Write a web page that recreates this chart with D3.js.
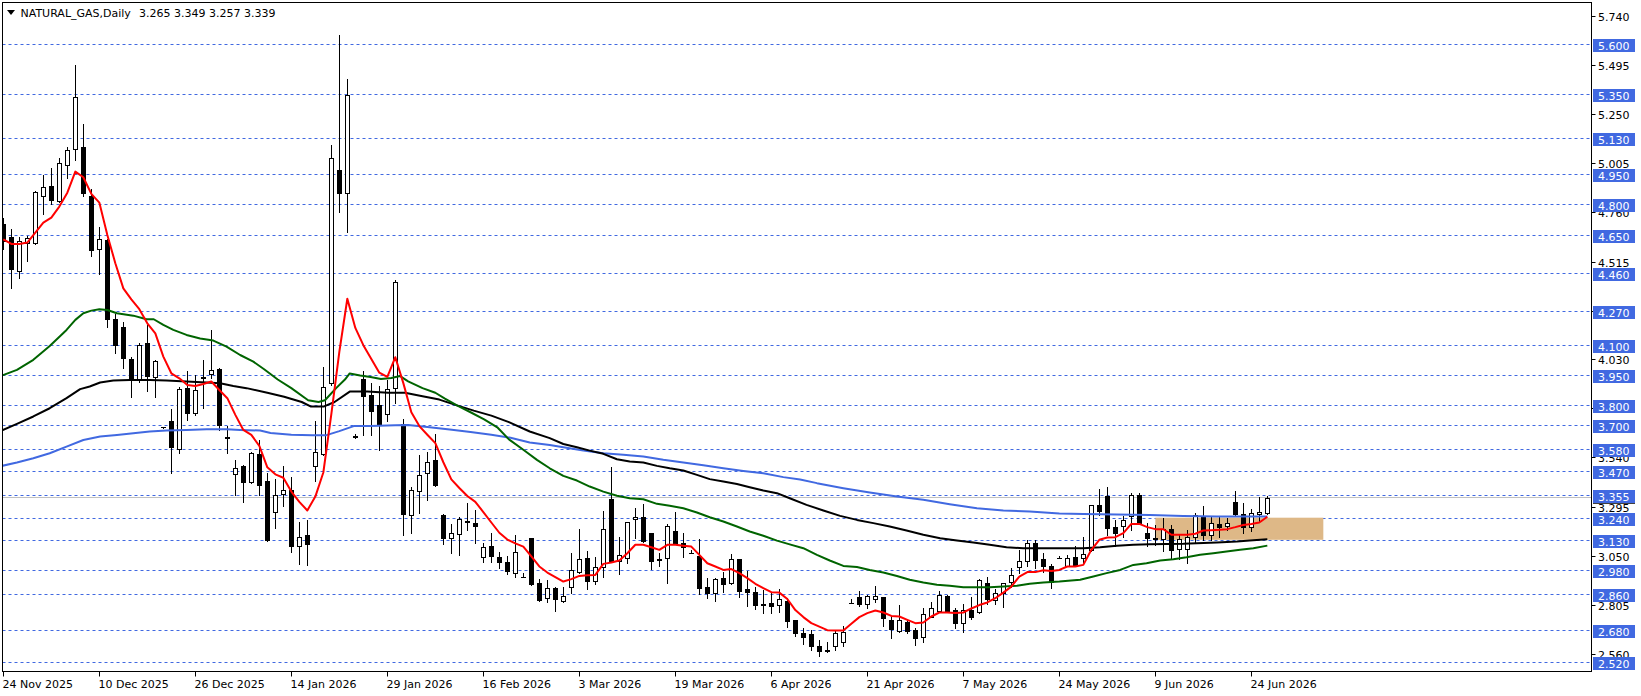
<!DOCTYPE html>
<html><head><meta charset="utf-8">
<script src="https://cdn.jsdelivr.net/npm/d3@7"></script>
<style>
html,body{margin:0;padding:0;background:#fff;}
svg{display:block;font-family:"DejaVu Sans",sans-serif;font-size:11px;}
</style></head><body>
<svg id="c" width="1641" height="696"></svg>
<script>
// ---- data (bar index 0 = 24 Nov 2025) ----
const opens = [4.70,4.636,4.467,4.606,4.610,4.840,4.890,4.819,4.995,5.078,5.084,4.842,4.576,4.623,4.228,4.188,4.029,3.926,4.109,3.939,
3.691,3.720,3.584,3.884,3.763,3.942,3.954,3.979,3.641,3.458,3.498,3.420,3.559,3.422,3.268,3.359,3.376,3.101,3.153,3.496,
3.559,3.910,4.970,4.858,3.645,3.931,3.850,3.799,3.756,3.885,3.705,3.251,3.372,3.465,3.527,3.252,3.139,3.160,3.225,3.216,
3.045,3.101,3.045,3.020,2.967,2.947,3.140,2.916,2.839,2.889,2.823,2.894,2.972,3.038,2.927,2.994,3.332,3.022,3.038,3.233,
3.242,3.163,3.032,3.038,3.173,3.113,3.063,3.050,2.896,2.864,2.939,2.914,3.033,2.886,2.872,2.808,2.814,2.803,2.826,2.731,
2.665,2.660,2.600,2.580,2.600,2.620,2.814,2.844,2.811,2.834,2.844,2.731,2.678,2.723,2.682,2.648,2.748,2.773,2.851,2.781,
2.715,2.781,2.768,2.917,2.831,2.864,2.922,2.994,3.022,3.113,3.033,2.997,3.039,3.000,3.043,3.040,3.080,3.302,3.349,3.193,
3.200,3.246,3.352,3.163,3.139,3.136,3.183,3.083,3.083,3.146,3.246,3.153,3.209,3.200,3.320,3.259,3.196,3.259,3.265];
const highs = [4.73,4.678,4.636,4.644,4.865,4.946,4.981,5.031,5.084,5.494,5.200,4.875,4.689,4.626,4.253,4.213,4.042,4.109,4.200,4.026,
3.694,3.780,3.893,3.972,3.951,4.026,4.175,3.984,3.697,3.528,3.503,3.569,3.628,3.465,3.431,3.496,3.444,3.220,3.228,3.719,
3.988,5.097,5.642,5.424,3.655,3.970,3.910,3.897,3.924,4.425,3.731,3.393,3.550,3.568,3.657,3.256,3.211,3.245,3.311,3.276,
3.113,3.165,3.070,3.050,3.154,2.965,3.140,2.935,2.931,2.894,2.894,3.063,3.183,3.072,3.043,3.274,3.491,3.146,3.218,3.287,
3.309,3.163,3.063,3.208,3.267,3.163,3.080,3.133,2.939,2.939,2.972,3.057,3.033,2.975,2.897,2.881,2.864,2.884,2.839,2.731,
2.690,2.680,2.630,2.620,2.680,2.700,2.834,2.877,2.856,2.901,2.847,2.748,2.806,2.735,2.690,2.789,2.818,2.877,2.856,2.789,
2.811,2.844,2.934,2.947,2.884,2.917,2.989,3.080,3.130,3.130,3.063,3.010,3.050,3.055,3.100,3.146,3.302,3.382,3.392,3.229,
3.250,3.365,3.365,3.213,3.204,3.237,3.204,3.160,3.180,3.262,3.299,3.246,3.242,3.240,3.375,3.312,3.282,3.345,3.349];
const lows = [4.58,4.386,4.435,4.520,4.603,4.752,4.802,4.814,4.930,5.021,4.844,4.545,4.452,4.191,4.062,3.987,3.840,3.918,3.873,3.840,
3.687,3.465,3.561,3.724,3.750,3.785,3.934,3.677,3.561,3.355,3.320,3.412,3.353,3.122,3.187,3.297,3.067,3.010,3.005,3.422,
3.550,3.902,4.764,4.660,3.638,3.650,3.653,3.576,3.722,3.811,3.153,3.165,3.263,3.328,3.396,3.108,3.062,3.053,3.177,3.113,
3.020,3.020,2.990,2.960,2.947,2.947,2.906,2.823,2.819,2.773,2.819,2.864,2.967,2.887,2.911,2.947,3.017,2.959,3.013,3.138,
3.121,2.985,3.000,2.917,3.110,3.043,3.062,2.861,2.838,2.823,2.872,2.909,2.844,2.798,2.785,2.765,2.765,2.768,2.698,2.649,
2.610,2.580,2.550,2.570,2.580,2.600,2.813,2.801,2.790,2.818,2.702,2.640,2.673,2.665,2.605,2.620,2.745,2.768,2.768,2.690,
2.673,2.735,2.765,2.811,2.811,2.795,2.897,2.967,3.000,2.989,2.972,2.889,3.038,2.997,3.000,3.012,3.072,3.254,3.155,3.100,
3.145,3.179,3.213,3.100,3.103,3.072,3.038,3.033,3.013,3.121,3.130,3.130,3.146,3.180,3.254,3.166,3.176,3.221,3.257];
const closes = [4.62,4.480,4.616,4.631,4.860,4.887,4.824,5.004,5.071,5.333,4.858,4.575,4.626,4.228,4.099,4.034,3.926,4.102,3.943,4.019,
3.690,3.591,3.883,3.760,3.876,3.936,3.974,3.700,3.638,3.486,3.420,3.561,3.401,3.131,3.353,3.376,3.101,3.143,3.108,3.566,
3.890,5.030,4.858,5.343,3.640,3.845,3.773,3.708,3.880,4.413,3.259,3.376,3.451,3.516,3.405,3.139,3.163,3.233,3.221,3.199,
3.096,3.050,3.019,2.975,3.068,2.947,2.911,2.828,2.889,2.834,2.848,2.980,3.033,2.927,2.994,3.183,3.022,3.055,3.218,3.244,
3.126,3.022,3.030,3.199,3.116,3.093,3.062,2.889,2.864,2.935,2.911,3.033,2.877,2.872,2.806,2.805,2.798,2.834,2.728,2.668,
2.645,2.600,2.575,2.575,2.668,2.673,2.814,2.811,2.851,2.851,2.740,2.685,2.731,2.678,2.640,2.761,2.789,2.856,2.773,2.718,
2.778,2.748,2.931,2.834,2.867,2.917,2.957,3.022,3.113,3.027,2.997,2.922,3.038,3.038,3.005,3.060,3.302,3.271,3.188,3.166,
3.230,3.352,3.216,3.140,3.136,3.183,3.080,3.133,3.146,3.254,3.155,3.213,3.193,3.215,3.259,3.193,3.262,3.269,3.339];

// moving averages: [bar index, value]
const maRed = [[0,4.626],[1,4.603],[2,4.603],[3,4.610],[4,4.659],[5,4.709],[6,4.734],[7,4.789],[8,4.858],[9,4.963],[10,4.935],[11,4.852],[12,4.809],[13,4.648],[14,4.507],[15,4.382],[16,4.327],[17,4.278],[18,4.208],[19,4.158],[20,4.042],[21,3.959],[22,3.934],[23,3.901],[24,3.896],[25,3.906],[26,3.918],[27,3.876],[28,3.835],[29,3.752],[30,3.677],[31,3.652],[32,3.598],[33,3.491],[34,3.456],[35,3.439],[36,3.370],[37,3.319],[38,3.276],[39,3.345],[40,3.465],[41,3.756],[42,4.065],[43,4.330],[44,4.185],[45,4.099],[46,4.030],[47,3.962],[48,3.941],[49,4.039],[50,3.910],[51,3.765],[52,3.696],[53,3.653],[54,3.611],[55,3.516],[56,3.431],[57,3.388],[58,3.348],[59,3.319],[60,3.268],[61,3.216],[62,3.165],[63,3.131],[64,3.112],[65,3.096],[66,3.047],[67,2.997],[68,2.967],[69,2.944],[70,2.922],[71,2.934],[72,2.950],[73,2.954],[74,2.955],[75,3.010],[76,3.017],[77,3.027],[78,3.063],[79,3.105],[80,3.105],[81,3.093],[82,3.080],[83,3.105],[84,3.105],[85,3.100],[86,3.096],[87,3.055],[88,3.013],[89,2.997],[90,2.980],[91,2.984],[92,2.964],[93,2.939],[94,2.911],[95,2.889],[96,2.869],[97,2.867],[98,2.835],[99,2.780],[100,2.745],[101,2.715],[102,2.698],[103,2.680],[104,2.678],[105,2.678],[106,2.712],[107,2.745],[108,2.765],[109,2.778],[110,2.768],[111,2.751],[112,2.748],[113,2.731],[114,2.715],[115,2.718],[116,2.748],[117,2.768],[118,2.768],[119,2.765],[120,2.768],[121,2.788],[122,2.805],[123,2.818],[124,2.839],[125,2.867],[126,2.897],[127,2.947],[128,2.969],[129,2.969],[130,2.978],[131,2.975],[132,2.980],[133,2.997],[134,2.997],[135,3.005],[136,3.080],[137,3.130],[138,3.141],[139,3.143],[140,3.163],[141,3.209],[142,3.209],[143,3.193],[144,3.183],[145,3.183],[146,3.155],[147,3.155],[148,3.155],[149,3.160],[150,3.176],[151,3.178],[152,3.180],[153,3.183],[154,3.193],[155,3.204],[156,3.209],[157,3.216],[158,3.245]];
const maGreen = [[-0.5,3.943],[1.7,3.976],[3.75,4.026],[5.8,4.095],[7.9,4.175],[9,4.225],[10,4.258],[11,4.271],[12,4.278],[13,4.274],[14.2,4.258],[16.25,4.246],[17.9,4.228],[18.8,4.228],[20,4.200],[21.25,4.175],[22.9,4.150],[24.6,4.132],[26.25,4.122],[27.9,4.092],[29.6,4.050],[31.25,4.017],[32.6,3.979],[34.3,3.928],[36,3.885],[38.1,3.825],[39.4,3.816],[40.2,3.825],[41.6,3.885],[42.7,3.928],[43.3,3.958],[44.6,3.948],[45.9,3.941],[47.2,3.931],[48.5,3.936],[49.6,3.945],[50.6,3.919],[52.4,3.885],[54,3.862],[55.2,3.833],[56.7,3.799],[58.4,3.765],[60.1,3.730],[61.8,3.688],[63.2,3.630],[65,3.578],[66.7,3.528],[68.3,3.486],[70,3.448],[71.7,3.425],[73.3,3.395],[75,3.370],[76.7,3.349],[78.3,3.337],[80,3.332],[81.7,3.309],[83.3,3.299],[85,3.287],[86.7,3.266],[88.3,3.242],[90,3.221],[91.7,3.196],[93.3,3.171],[95,3.150],[96.7,3.126],[98.3,3.107],[100,3.088],[101.7,3.055],[103.3,3.027],[105,3.000],[106.7,2.994],[108.3,2.980],[110,2.967],[111.7,2.950],[113.3,2.931],[115,2.917],[116.7,2.906],[118.3,2.901],[120,2.894],[121.7,2.894],[123.3,2.894],[125,2.897],[126.7,2.901],[128.3,2.911],[130,2.917],[132,2.922],[134.6,2.931],[136.25,2.947],[137.9,2.964],[139.6,2.980],[141.25,3.005],[142.9,3.013],[144.6,3.027],[146.25,3.033],[147.9,3.043],[149.6,3.055],[151.25,3.063],[152.9,3.072],[154.6,3.080],[156.25,3.088],[158,3.101]];
const maBlack = [[-0.5,3.669],[1.7,3.707],[3.75,3.744],[5.8,3.785],[7.9,3.835],[9.6,3.880],[10.8,3.893],[12.1,3.913],[13.75,3.923],[15.8,3.926],[18.3,3.926],[20.4,3.923],[22.9,3.918],[25.4,3.913],[27.1,3.909],[28.75,3.896],[30.4,3.885],[33,3.862],[35.1,3.842],[37.3,3.816],[38.4,3.794],[40.1,3.794],[41.4,3.816],[43.3,3.868],[45.5,3.868],[48.1,3.862],[50.2,3.862],[52.4,3.845],[54.5,3.828],[56.7,3.799],[58.8,3.773],[61,3.748],[63.2,3.716],[65.8,3.669],[68.3,3.636],[70,3.607],[71.7,3.591],[73.3,3.574],[75,3.558],[76.7,3.531],[78.3,3.520],[80,3.515],[81.7,3.498],[83.3,3.486],[85,3.475],[86.7,3.453],[88.3,3.432],[90,3.420],[91.7,3.408],[93.3,3.392],[95,3.375],[96.7,3.362],[98.3,3.337],[100.4,3.304],[102.5,3.276],[104.6,3.249],[106.7,3.229],[108.75,3.213],[110.8,3.196],[112.9,3.176],[115,3.155],[117.1,3.138],[119.2,3.126],[121.25,3.116],[123.3,3.105],[125.4,3.093],[127.5,3.088],[130,3.088],[135,3.088],[137.1,3.093],[139.2,3.100],[141.25,3.105],[143.3,3.108],[147.5,3.110],[151.7,3.116],[154.2,3.121],[155.8,3.126],[158,3.133]];
const maBlue = [[-0.5,3.495],[1.7,3.515],[3.75,3.536],[5.8,3.561],[7.9,3.594],[10,3.627],[12.1,3.644],[14.2,3.652],[16.25,3.661],[18.3,3.669],[20.4,3.674],[22.9,3.677],[25.4,3.680],[27.9,3.680],[29.6,3.677],[32.1,3.674],[33.4,3.662],[36,3.653],[38.6,3.650],[40.3,3.650],[42,3.671],[43.8,3.696],[45.9,3.696],[49,3.700],[50.6,3.701],[53,3.691],[55.8,3.679],[58.4,3.667],[61,3.653],[63.4,3.638],[65.8,3.614],[68.3,3.602],[70,3.591],[72.5,3.574],[75,3.561],[77.5,3.553],[80,3.545],[82.5,3.528],[85,3.515],[87.5,3.501],[90,3.486],[92.5,3.473],[95,3.461],[97.5,3.442],[99.6,3.430],[101.7,3.412],[105,3.387],[108.3,3.365],[111.7,3.345],[115,3.329],[118.3,3.307],[121.7,3.287],[125,3.276],[128.3,3.271],[132,3.261],[135,3.259],[139.2,3.256],[143.3,3.254],[147.5,3.249],[151.7,3.246],[158,3.246]];

const levels = [5.600,5.350,5.130,4.950,4.800,4.650,4.460,4.270,4.100,3.950,3.800,3.700,3.580,3.470,3.355,3.240,3.130,2.980,2.860,2.680,2.520];
const axisTicks = [5.740,5.495,5.250,5.005,4.760,4.515,4.270,4.030,3.785,3.540,3.295,3.050,2.805,2.560];
const dateTickIdx = [0,12,24,36,48,60,72,84,96,108,120,132,144,156];
const dateTickLabels = ["24 Nov 2025","10 Dec 2025","26 Dec 2025","14 Jan 2026","29 Jan 2026","16 Feb 2026","3 Mar 2026","19 Mar 2026","6 Apr 2026","21 Apr 2026","7 May 2026","24 May 2026","9 Jun 2026","24 Jun 2026"];
const zone = {from:144, to:165, hi:3.24, lo:3.13};
const titleName = "NATURAL_GAS,Daily";
const titleValues = "3.265 3.349 3.257 3.339";

// ---- layout ----
const L = 2.5, T = 2.5, R = 1591.5, B = 671.5;
const svg = d3.select("#c");
const x = d3.scaleLinear().domain([0, 198.5]).range([3.33, 1591.33]);
const y = d3.scaleLinear().domain([5.6, 2.52]).range([43.7, 662.3]);
const px = v => Math.round(v) + 0.5;

svg.append("defs").append("clipPath").attr("id","plot")
  .append("rect").attr("x",L).attr("y",T).attr("width",R-L).attr("height",B-T);

const g = svg.append("g").attr("clip-path","url(#plot)");

// dashed horizontal levels
g.selectAll("line.lvl").data(levels).join("line").attr("class","lvl")
  .attr("x1",L).attr("x2",R).attr("y1",d=>px(y(d))).attr("y2",d=>px(y(d)))
  .attr("stroke","#4169E1").attr("stroke-width",1).attr("stroke-dasharray","3,3");

// zone rectangle
g.append("rect")
  .attr("x",x(zone.from)).attr("width",x(zone.to)-x(zone.from))
  .attr("y",y(zone.hi)).attr("height",y(zone.lo)-y(zone.hi))
  .attr("fill","#DEB887");

// bid line
const last = closes[closes.length-1];
g.append("line").attr("x1",L).attr("x2",R).attr("y1",px(y(last))-1).attr("y2",px(y(last))-1)
  .attr("stroke","#C0C0C0").attr("stroke-width",1);

// candles
const bars = d3.range(closes.length).map(i=>({i,o:opens[i],h:highs[i],l:lows[i],c:closes[i]}));
const cg = g.append("g");
bars.forEach(b=>{
  const cx = Math.round(x(b.i));
  cg.append("line").attr("x1",cx+0.5).attr("x2",cx+0.5)
    .attr("y1",Math.round(y(b.h))).attr("y2",Math.round(y(b.l))+1)
    .attr("stroke","#000").attr("stroke-width",1);
  const top = Math.round(y(Math.max(b.o,b.c))), bot = Math.round(y(Math.min(b.o,b.c)));
  const up = b.c >= b.o;
  if (bot - top < 1) {
    cg.append("line").attr("x1",cx-2).attr("x2",cx+3).attr("y1",top+0.5).attr("y2",top+0.5)
      .attr("stroke","#000").attr("stroke-width",1);
  } else {
    cg.append("rect").attr("x",cx-1.5).attr("width",4).attr("y",top+0.5).attr("height",bot-top)
      .attr("fill", up ? "#fff" : "#000").attr("stroke","#000").attr("stroke-width",1);
  }
});

// moving averages
const line = d3.line().x(d=>x(d[0])).y(d=>y(d[1]));
[[maBlue,"#4169E1"],[maBlack,"#000000"],[maGreen,"#006400"],[maRed,"#FF0000"]].forEach(([d,c])=>{
  g.append("path").attr("d",line(d)).attr("fill","none").attr("stroke",c).attr("stroke-width",2)
    .attr("stroke-linejoin","round");
});

// frame
svg.append("rect").attr("x",L).attr("y",T).attr("width",R-L).attr("height",B-T)
  .attr("fill","none").attr("stroke","#000").attr("stroke-width",1);

// right axis ticks
const ax = svg.append("g");
axisTicks.forEach(v=>{
  const yy = y(v);
  ax.append("line").attr("x1",R).attr("x2",R+4).attr("y1",px(yy)).attr("y2",px(yy)).attr("stroke","#000");
  ax.append("text").attr("x",1598).attr("y",yy+5).attr("fill","#000").text(v.toFixed(3));
});
// ask marker
ax.append("line").attr("x1",1593).attr("x2",1635).attr("y1",y(last)+5).attr("y2",y(last)+5)
  .attr("stroke","#000").attr("stroke-width",2);
// level labels
levels.forEach(v=>{
  const yy = Math.round(y(v));
  ax.append("rect").attr("x",1593).attr("y",yy-5).attr("width",42).attr("height",13).attr("fill","#4169E1");
  ax.append("text").attr("x",1598).attr("y",yy+6).attr("fill","#fff").text(v.toFixed(3));
});

// bottom axis
dateTickIdx.forEach((idx,k)=>{
  const xx = Math.round(x(idx))+0.5;
  svg.append("line").attr("x1",xx).attr("x2",xx).attr("y1",B).attr("y2",B+5).attr("stroke","#000");
  svg.append("text").attr("x",xx-1).attr("y",688).attr("fill","#000").text(dateTickLabels[k]);
});

// title
svg.append("path").attr("d","M7,10 L15,10 L11,15 Z").attr("fill","#000");
svg.append("text").attr("x",20.5).attr("y",17).attr("fill","#000").text(titleName);
svg.append("text").attr("x",139).attr("y",17).attr("fill","#000").text(titleValues);
</script>
</body></html>
